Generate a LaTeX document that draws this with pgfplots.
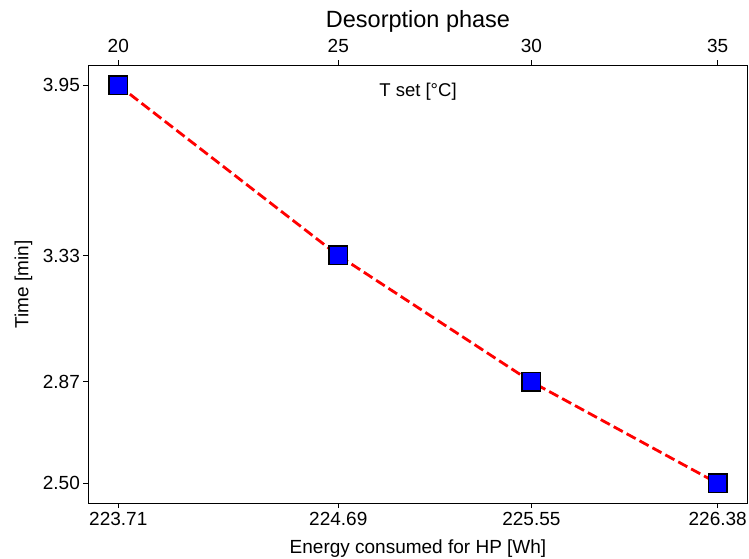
\documentclass[border=0pt]{standalone}
\usepackage{fontspec}
\setmainfont{Liberation Sans}
\usepackage{pgfplots}
\pgfplotsset{compat=1.18}
\begin{document}
\begin{tikzpicture}
\pgfplotsset{
  common/.style={
    scale only axis, width=659.4pt, height=438pt,
    xmin=223.5765, xmax=226.5135, ymin=2.4275, ymax=4.0225,
    tick align=outside, major tick length=4.9pt,
    every tick/.style={black, line width=1.1pt},
    axis line style={line width=1.1pt},
    ticklabel style={font=\fontsize{19}{22}\selectfont},
    /pgf/number format/assume math mode=true,
    xtick={223.71,224.69,225.55,226.38},
  }
}
\begin{axis}[common, name=main,
  xticklabels={223.71,224.69,225.55,226.38},
  ytick={2.50,2.87,3.33,3.95}, yticklabels={2.50,2.87,3.33,3.95},
  xtick pos=left, ytick pos=left,
  xlabel={Energy consumed for HP [Wh]},
  xlabel style={font=\fontsize{19}{22}\selectfont, at={(axis description cs:0.5,0)}, anchor=base, yshift=-49.7pt},
  ylabel={Time [min]},
  ylabel style={font=\fontsize{19}{22}\selectfont, at={(axis description cs:-0.0985,0.5)}, anchor=center},
]
\addplot[only marks, mark=square*, mark size=9.3pt,
  mark options={fill=blue, draw=black, line width=1.4pt}]
  coordinates {(223.71,3.95) (224.69,3.33) (225.55,2.87) (226.38,2.50)};
\addplot[red, line width=2.8pt, dash pattern=on 10.3pt off 4.4pt, no marks]
  coordinates {(223.71,3.95) (224.69,3.33) (225.55,2.87) (226.38,2.50)};
\node[anchor=base, font=\fontsize{18.5}{21}\selectfont, yshift=-31.7pt] at (rel axis cs:0.5,1) {T set [°C]};
\end{axis}
\begin{axis}[common,
  axis x line*=top, axis y line=none,
  xticklabels={20,25,30,35},
  xticklabel style={yshift=4pt},
]
\end{axis}
\node[anchor=base, font=\fontsize{23.5}{26}\selectfont] at ([yshift=38pt]main.north) {Desorption phase};
\pgfresetboundingbox
\path[use as bounding box] ([shift={(-88.3pt,-55.7pt)}]main.south west) rectangle ([shift={(1.3pt,65.3pt)}]main.north east);
\end{tikzpicture}
\end{document}
